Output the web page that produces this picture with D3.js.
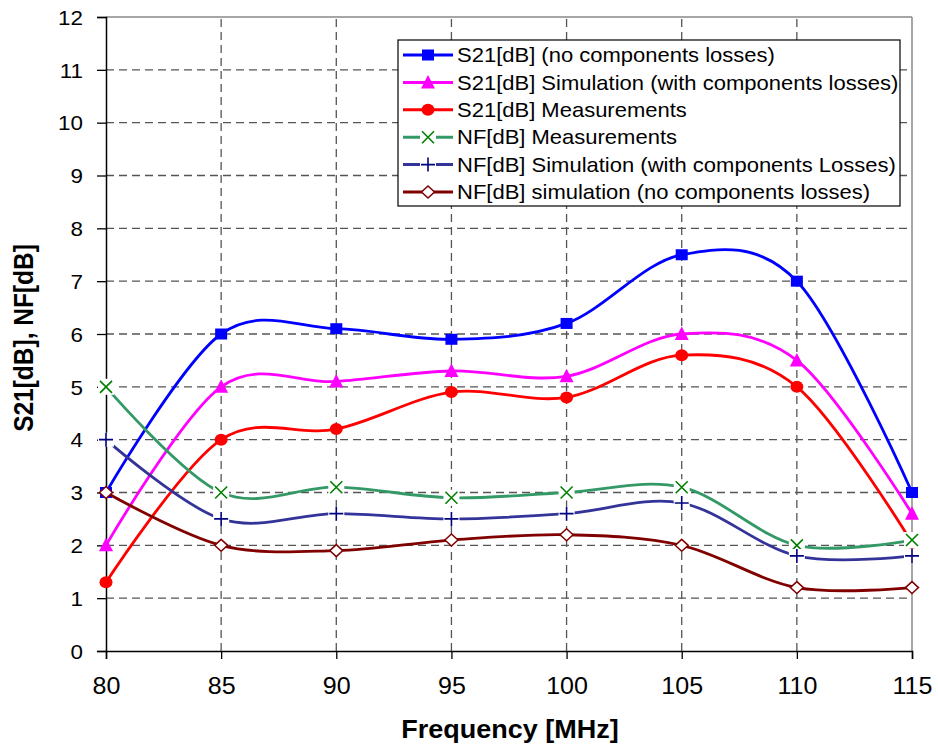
<!DOCTYPE html>
<html><head><meta charset="utf-8">
<script src="https://cdn.jsdelivr.net/npm/d3@7"></script>
<style>body{margin:0;background:#fff}</style>
</head><body>
<svg id="c" width="938" height="746"></svg>
<script>
const freqs = [80, 85, 90, 95, 100, 105, 110, 115];
const s21NoLoss = [3.0, 6.0, 6.1, 5.9, 6.2, 7.5, 7.0, 3.0];
const s21SimLoss = [2.0, 5.0, 5.1, 5.3, 5.2, 6.0, 5.5, 2.6];
const s21Meas = [1.3, 4.0, 4.2, 4.9, 4.8, 5.6, 5.0, 2.05];
const nfMeas = [5.0, 3.0, 3.1, 2.9, 3.0, 3.1, 2.0, 2.1];
const nfSimLoss = [4.0, 2.5, 2.6, 2.5, 2.6, 2.8, 1.8, 1.8];
const nfSimNoLoss = [3.0, 2.0, 1.9, 2.1, 2.2, 2.0, 1.2, 1.2];
const xTicks = [80, 85, 90, 95, 100, 105, 110, 115];
const yTicks = [0,1,2,3,4,5,6,7,8,9,10,11,12];
const seriesNames = [
  "S21[dB] (no components losses)",
  "S21[dB] Simulation (with components losses)",
  "S21[dB] Measurements",
  "NF[dB] Measurements",
  "NF[dB] Simulation (with components Losses)",
  "NF[dB] simulation (no components losses)"
];

const series = [
  {name: seriesNames[0], values: s21NoLoss, line: "#0000ff", marker: "square", mcol: "#0000ff"},
  {name: seriesNames[1], values: s21SimLoss, line: "#ff00ff", marker: "triangle", mcol: "#ff00ff"},
  {name: seriesNames[2], values: s21Meas, line: "#ff0000", marker: "circle", mcol: "#ff0000"},
  {name: seriesNames[3], values: nfMeas, line: "#339966", marker: "x", mcol: "#008000"},
  {name: seriesNames[4], values: nfSimLoss, line: "#333399", marker: "plus", mcol: "#000080"},
  {name: seriesNames[5], values: nfSimNoLoss, line: "#800000", marker: "diamond", mcol: "#800000"}
];

const svg = d3.select("#c");
const x = d3.scaleLinear().domain([80, 115]).range([106, 912]);
const y = d3.scaleLinear().domain([0, 12]).range([651, 17]);
const font = "'Liberation Sans', Arial, sans-serif";

// grid
const grid = svg.append("g");
grid.selectAll("line.h").data(yTicks.filter(d => d > 0 && d < 12)).join("line")
  .attr("x1", x(80)).attr("x2", x(115)).attr("y1", d => y(d)).attr("y2", d => y(d))
  .attr("stroke", "#555").attr("stroke-width", 1.3).attr("stroke-dasharray", "8,5");
grid.selectAll("line.v").data(xTicks.filter(d => d > 80 && d < 115)).join("line")
  .attr("y1", y(0)).attr("y2", y(12)).attr("x1", d => x(d)).attr("x2", d => x(d))
  .attr("stroke", "#555").attr("stroke-width", 1.3).attr("stroke-dasharray", "8,5");
// frame top/right
svg.append("line").attr("x1", x(80)).attr("x2", x(115)).attr("y1", y(12)).attr("y2", y(12)).attr("stroke", "#888").attr("stroke-width", 1.5);
svg.append("line").attr("x1", x(115)).attr("x2", x(115)).attr("y1", y(12)).attr("y2", y(0)).attr("stroke", "#888").attr("stroke-width", 1.5);

// axes
const xAxis = d3.axisBottom(x).tickValues(xTicks).tickSize(8).tickPadding(19).tickFormat(d3.format("d"));
const yAxis = d3.axisLeft(y).tickValues(yTicks).tickSize(9).tickPadding(14).tickFormat(d3.format("d"));
const gx = svg.append("g").attr("transform", `translate(0,${y(0)})`).call(xAxis);
const gy = svg.append("g").attr("transform", `translate(${x(80)},0)`).call(yAxis);
[gx, gy].forEach(g => {
  g.select(".domain").attr("stroke", "#000").attr("stroke-width", 1.5);
  g.selectAll(".tick line").attr("stroke", "#000").attr("stroke-width", 1.3);
  g.selectAll(".tick text").attr("fill", "#000").style("font-family", font);
});
gx.selectAll(".tick text").style("font-size", "23px").attr("transform", "scale(1.09,1)");
gy.selectAll(".tick text").style("font-size", "20px").attr("x", 0).attr("dy", "0.36em")
  .attr("transform", "translate(-23,0) scale(1.12,1)");

svg.append("text").attr("transform", "translate(510,738) scale(1.08,1)").attr("text-anchor", "middle")
  .style("font-family", font).style("font-size", "25px").style("font-weight", "bold").text("Frequency [MHz]");
svg.append("text").attr("transform", "translate(33,338) rotate(-90) scale(1,1.13)").attr("text-anchor", "middle")
  .style("font-family", font).style("font-size", "24.5px").style("font-weight", "bold").text("S21[dB], NF[dB]");

function drawMarker(g, type, col, cx, cy) {
  const m = g.append("g").attr("transform", `translate(${cx},${cy})`);
  if (type === "square") m.append("rect").attr("x", -6).attr("y", -5.5).attr("width", 12).attr("height", 11).attr("fill", col);
  else if (type === "triangle") m.append("path").attr("d", "M0,-7.5L7,6L-7,6Z").attr("fill", col);
  else if (type === "circle") m.append("ellipse").attr("rx", 6.5).attr("ry", 6).attr("fill", col);
  else if (type === "x") {
    m.append("rect").attr("x", -8).attr("y", -8).attr("width", 16).attr("height", 16).attr("fill", "#fff");
    m.append("path").attr("d", "M-6,-6L6,6M-6,6L6,-6").attr("stroke", col).attr("stroke-width", 1.6);
  } else if (type === "plus") {
    m.append("rect").attr("x", -8).attr("y", -7).attr("width", 16).attr("height", 14).attr("fill", "#fff");
    m.append("path").attr("d", "M-7,0L7,0M0,-7L0,7").attr("stroke", col).attr("stroke-width", 1.6);
  } else if (type === "diamond") {
    m.append("path").attr("d", "M0,-6L6.5,0L0,6L-6.5,0Z").attr("fill", "#fff").attr("stroke", col).attr("stroke-width", 1.5);
  }
}

const line = d3.line().x((d, i) => x(freqs[i])).y(d => y(d)).curve(d3.curveCatmullRom.alpha(0));
const plot = svg.append("g");
series.forEach(s => {
  plot.append("path").attr("d", line(s.values)).attr("fill", "none")
    .attr("stroke", s.line).attr("stroke-width", 2.8).attr("stroke-linejoin", "round");
  s.values.forEach((v, i) => drawMarker(plot, s.marker, s.mcol, x(freqs[i]), y(v)));
});

// legend
const lg = svg.append("g");
lg.append("rect").attr("x", 398).attr("y", 40).attr("width", 502).attr("height", 166)
  .attr("fill", "#fff").attr("stroke", "#000").attr("stroke-width", 1.2);
series.forEach((s, i) => {
  const ly = 55 + i * 27.4;
  lg.append("line").attr("x1", 403).attr("x2", 453).attr("y1", ly).attr("y2", ly)
    .attr("stroke", s.line).attr("stroke-width", 3);
  drawMarker(lg, s.marker, s.mcol, 428, ly);
  lg.append("text").attr("transform", `translate(457,${ly}) scale(1.1,1)`).attr("dy", "0.36em")
    .style("font-family", font).style("font-size", "20px").attr("fill", "#000").text(s.name);
});
</script>
</body></html>
